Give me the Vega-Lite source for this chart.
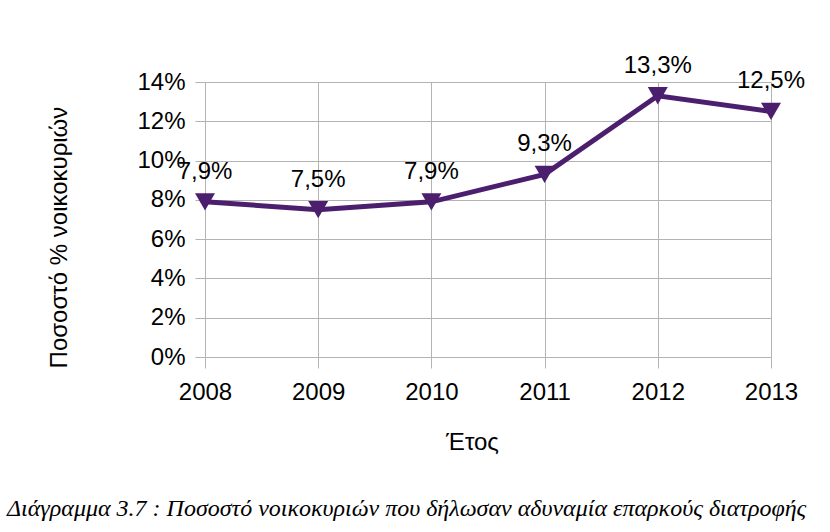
{
  "$schema": "https://vega.github.io/schema/vega-lite/v6.json",
  "width": 566,
  "height": 275,
  "autosize": {"type": "none"},
  "padding": {"left": 205, "top": 82, "right": 59, "bottom": 175},
  "background": "white",
  "config": {
    "locale": {"number": {"decimal": ",", "thousands": ".", "grouping": [3], "currency": ["", " €"]}},
    "view": {"stroke": null},
    "font": "Liberation Sans"
  },
  "title": {
    "text": "Διάγραμμα 3.7 : Ποσοστό νοικοκυριών που δήλωσαν αδυναμία επαρκούς διατροφής",
    "orient": "bottom",
    "anchor": "start",
    "frame": "group",
    "font": "Liberation Serif",
    "fontStyle": "italic",
    "fontWeight": "normal",
    "fontSize": 24,
    "color": "black",
    "dx": -198,
    "offset": 43
  },
  "data": {
    "values": [
      {"year": 2008, "value": 0.079},
      {"year": 2009, "value": 0.075},
      {"year": 2010, "value": 0.079},
      {"year": 2011, "value": 0.093},
      {"year": 2012, "value": 0.133},
      {"year": 2013, "value": 0.125}
    ]
  },
  "encoding": {
    "x": {
      "field": "year",
      "type": "ordinal",
      "scale": {"type": "point", "padding": 0},
      "axis": {
        "title": "Έτος",
        "labelAngle": 0,
        "grid": true,
        "gridColor": "#b3b3b3",
        "gridWidth": 1,
        "domain": false,
        "tickColor": "#b3b3b3",
        "tickSize": 11,
        "labelFontSize": 24,
        "labelColor": "black",
        "labelPadding": 12,
        "titleFontSize": 24,
        "titleFontWeight": "normal",
        "titleColor": "black",
        "titleX": 267,
        "titleY": 92,
        "titleBaseline": "alphabetic"
      }
    },
    "y": {
      "field": "value",
      "type": "quantitative",
      "scale": {"domain": [0, 0.14]},
      "axis": {
        "title": "Ποσοστό % νοικοκυριών",
        "format": ".0%",
        "values": [0, 0.02, 0.04, 0.06, 0.08, 0.1, 0.12, 0.14],
        "grid": true,
        "gridColor": "#b3b3b3",
        "gridWidth": 1,
        "domain": false,
        "tickColor": "#b3b3b3",
        "tickSize": 10,
        "labelFontSize": 24,
        "labelColor": "black",
        "labelPadding": 10,
        "titleFontSize": 24,
        "titleFontWeight": "normal",
        "titleColor": "black",
        "titleX": -139,
        "titleY": 155,
        "titleBaseline": "alphabetic"
      }
    }
  },
  "layer": [
    {"mark": {"type": "line", "color": "#4b1f6e", "strokeWidth": 5}},
    {"mark": {"type": "point", "shape": "triangle-down", "filled": true, "size": 400, "color": "#4b1f6e", "opacity": 1}},
    {
      "mark": {"type": "text", "dy": -23, "baseline": "alphabetic", "fontSize": 24, "font": "Liberation Sans", "color": "black"},
      "encoding": {"text": {"field": "value", "type": "quantitative", "format": ".1%"}}
    }
  ]
}
